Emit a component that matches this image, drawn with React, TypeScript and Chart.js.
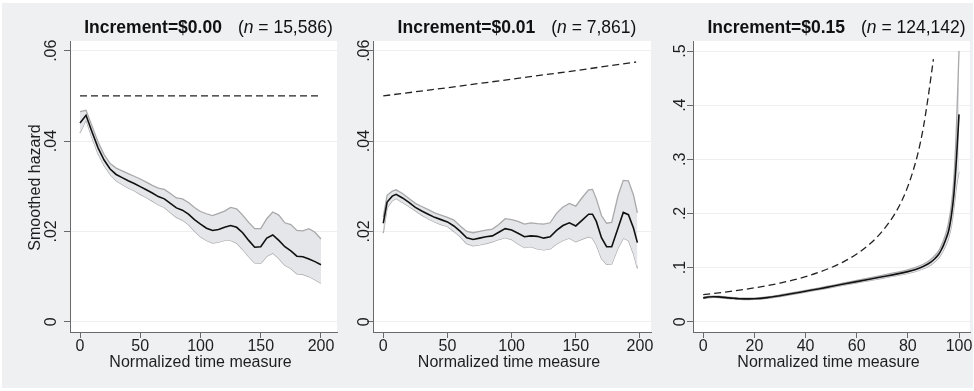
import React, { useEffect, useRef } from 'react';
import { Chart, registerables } from 'chart.js';

Chart.register(...registerables);

// ---------- Panel 1: Increment=$0.00 ----------
const p1X = [0, 5, 10, 15, 20, 25, 30, 35, 40, 45, 50, 55, 60, 65, 70, 75, 80, 85, 90, 95, 100, 105, 110, 115, 120, 125, 130, 135, 140, 145, 150, 155, 160, 165, 170, 175, 180, 185, 190, 195, 200];
const p1Hazard = [0.0440, 0.0457, 0.0420, 0.0385, 0.0358, 0.0338, 0.0326, 0.0319, 0.0312, 0.0306, 0.0299, 0.0292, 0.0285, 0.0277, 0.0272, 0.0262, 0.0252, 0.0247, 0.0238, 0.0226, 0.0216, 0.0207, 0.0202, 0.0204, 0.0209, 0.0213, 0.0209, 0.0197, 0.0180, 0.0165, 0.0166, 0.0185, 0.0192, 0.0180, 0.0166, 0.0157, 0.0145, 0.0144, 0.0139, 0.0133, 0.0126];
const p1Upper = [0.0465, 0.0468, 0.0433, 0.0398, 0.0370, 0.0350, 0.0340, 0.0334, 0.0328, 0.0322, 0.0316, 0.0309, 0.0302, 0.0296, 0.0293, 0.0284, 0.0274, 0.0272, 0.0264, 0.0253, 0.0244, 0.0239, 0.0235, 0.0240, 0.0245, 0.0253, 0.0250, 0.0236, 0.0220, 0.0206, 0.0206, 0.0228, 0.0243, 0.0236, 0.0219, 0.0215, 0.0202, 0.0201, 0.0206, 0.0198, 0.0183];
const p1Lower = [0.0418, 0.0447, 0.0407, 0.0372, 0.0346, 0.0326, 0.0312, 0.0304, 0.0296, 0.0290, 0.0282, 0.0275, 0.0267, 0.0259, 0.0253, 0.0242, 0.0231, 0.0225, 0.0215, 0.0201, 0.0188, 0.0180, 0.0174, 0.0176, 0.0180, 0.0180, 0.0174, 0.0160, 0.0144, 0.0130, 0.0129, 0.0145, 0.0152, 0.0140, 0.0125, 0.0118, 0.0106, 0.0105, 0.0100, 0.0093, 0.0085];
const p1BaseX = [0, 200];
const p1Base = [0.05, 0.05];

// ---------- Panel 2: Increment=$0.01 ----------
const p2X = [0, 3, 7, 10, 15, 20, 25, 30, 35, 40, 45, 50, 55, 60, 65, 70, 75, 80, 85, 90, 95, 100, 105, 110, 115, 120, 125, 130, 135, 140, 145, 150, 155, 160, 163, 166, 170, 174, 178, 183, 187, 191, 195, 198];
const p2Hazard = [0.0218, 0.0265, 0.0278, 0.0282, 0.0274, 0.0264, 0.0253, 0.0245, 0.0238, 0.0231, 0.0226, 0.0221, 0.0212, 0.0200, 0.0186, 0.0182, 0.0185, 0.0188, 0.0190, 0.0198, 0.0206, 0.0203, 0.0196, 0.0188, 0.0190, 0.0189, 0.0185, 0.0188, 0.0202, 0.0213, 0.0219, 0.0212, 0.0225, 0.0238, 0.0238, 0.0222, 0.0186, 0.0166, 0.0166, 0.0208, 0.0242, 0.0237, 0.0207, 0.0175];
const p2Upper = [0.0232, 0.0280, 0.0289, 0.0292, 0.0284, 0.0273, 0.0262, 0.0255, 0.0248, 0.0241, 0.0236, 0.0231, 0.0225, 0.0212, 0.0200, 0.0197, 0.0200, 0.0203, 0.0205, 0.0215, 0.0228, 0.0226, 0.0222, 0.0216, 0.0219, 0.0217, 0.0216, 0.0219, 0.0240, 0.0254, 0.0262, 0.0256, 0.0275, 0.0292, 0.0293, 0.0272, 0.0235, 0.0218, 0.0220, 0.0280, 0.0313, 0.0312, 0.0280, 0.0241];
const p2Lower = [0.0196, 0.0252, 0.0268, 0.0273, 0.0264, 0.0255, 0.0246, 0.0236, 0.0228, 0.0221, 0.0215, 0.0211, 0.0200, 0.0188, 0.0173, 0.0168, 0.0170, 0.0173, 0.0177, 0.0182, 0.0186, 0.0182, 0.0172, 0.0164, 0.0166, 0.0161, 0.0159, 0.0161, 0.0172, 0.0180, 0.0185, 0.0177, 0.0183, 0.0188, 0.0185, 0.0170, 0.0140, 0.0127, 0.0128, 0.0164, 0.0185, 0.0180, 0.0150, 0.0118];
const p2BaseX = [0, 50, 100, 150, 197];
const p2Base = [0.0500, 0.0518, 0.0537, 0.0556, 0.0575];

// ---------- Panel 3: Increment=$0.15 ----------
const p3X = [0, 2, 4, 6, 8, 10, 12, 14, 16, 18, 20, 25, 30, 35, 40, 45, 50, 55, 60, 65, 70, 75, 80, 83, 86, 88, 90, 92, 93, 94, 95, 96, 97, 98, 99, 100];
const p3Hazard = [0.0440, 0.0455, 0.0462, 0.0458, 0.0450, 0.0440, 0.0432, 0.0425, 0.0422, 0.0422, 0.0424, 0.0445, 0.0480, 0.0520, 0.0563, 0.0605, 0.0650, 0.0695, 0.0740, 0.0785, 0.0830, 0.0875, 0.0925, 0.0965, 0.1020, 0.1070, 0.1140, 0.1240, 0.1320, 0.1420, 0.1540, 0.1690, 0.1950, 0.2350, 0.3000, 0.3830];
const p3Upper = [0.0455, 0.0468, 0.0474, 0.0470, 0.0462, 0.0452, 0.0444, 0.0437, 0.0434, 0.0434, 0.0436, 0.0458, 0.0494, 0.0535, 0.0579, 0.0622, 0.0668, 0.0715, 0.0762, 0.0810, 0.0857, 0.0905, 0.0958, 0.1002, 0.1062, 0.1118, 0.1195, 0.1305, 0.1395, 0.1510, 0.1650, 0.1850, 0.2150, 0.2650, 0.3600, 0.5000];
const p3Lower = [0.0425, 0.0442, 0.0450, 0.0446, 0.0438, 0.0428, 0.0420, 0.0413, 0.0410, 0.0410, 0.0412, 0.0432, 0.0466, 0.0505, 0.0547, 0.0588, 0.0632, 0.0675, 0.0718, 0.0760, 0.0803, 0.0845, 0.0892, 0.0928, 0.0978, 0.1022, 0.1085, 0.1175, 0.1245, 0.1330, 0.1430, 0.1560, 0.1760, 0.2100, 0.2500, 0.2770];
const p3BaseX = [0, 10, 20, 30, 40, 50, 55, 60, 65, 70, 75, 78, 80, 82, 84, 86, 88, 90];
const p3Base = [0.050, 0.0556, 0.0625, 0.0714, 0.0833, 0.100, 0.111, 0.125, 0.143, 0.167, 0.200, 0.227, 0.250, 0.278, 0.3125, 0.357, 0.417, 0.485];

// ---------- Ticks and labels ----------
const xTicksA = [0, 50, 100, 150, 200];
const xLabelsA = ['0', '50', '100', '150', '200'];
const xTicksB = [0, 20, 40, 60, 80, 100];
const xLabelsB = ['0', '20', '40', '60', '80', '100'];
const yTicksA = [0, 0.02, 0.04, 0.06];
const yLabelsA = ['0', '.02', '.04', '.06'];
const yTicksB = [0, 0.1, 0.2, 0.3, 0.4, 0.5];
const yLabelsB = ['0', '.1', '.2', '.3', '.4', '.5'];

const titles = ['Increment=$0.00', 'Increment=$0.01', 'Increment=$0.15'];
const counts = [' = 15,586)', ' = 7,861)', ' = 124,142)'];
const xTitle = 'Normalized time measure';
const yTitle = 'Smoothed hazard';

const FONT = '"Liberation Sans", Arial, Helvetica, sans-serif';

type Panel = {
  left: number; width: number; yWidth: number; padRight: number;
  xMin: number; xMax: number; yMin: number; yMax: number;
  xTicks: number[]; xLabels: string[]; yTicks: number[]; yLabels: string[];
  yLabelOffset: number; title: string; count: string; showYTitle: boolean;
  x: number[]; hazard: number[]; upper: number[]; lower: number[];
  baseX: number[]; base: number[]; smooth: boolean;
};

const panels: Panel[] = [
  {
    left: 0, width: 340, yWidth: 70, padRight: 3,
    xMin: -8.3, xMax: 213.3, yMin: -0.00228, yMax: 0.06215,
    xTicks: xTicksA, xLabels: xLabelsA, yTicks: yTicksA, yLabels: yLabelsA,
    yLabelOffset: 20, title: titles[0], count: counts[0], showYTitle: true,
    x: p1X, hazard: p1Hazard, upper: p1Upper, lower: p1Lower, baseX: p1BaseX, base: p1Base, smooth: false,
  },
  {
    left: 340, width: 315, yWidth: 33, padRight: 4,
    xMin: -8.0, xMax: 208.6, yMin: -0.00228, yMax: 0.06215,
    xTicks: xTicksA, xLabels: xLabelsA, yTicks: yTicksA, yLabels: yLabelsA,
    yLabelOffset: 10, title: titles[1], count: counts[1], showYTitle: false,
    x: p2X, hazard: p2Hazard, upper: p2Upper, lower: p2Lower, baseX: p2BaseX, base: p2Base, smooth: false,
  },
  {
    left: 655, width: 319, yWidth: 38, padRight: 4,
    xMin: -4.0, xMax: 104.3, yMin: -0.019, yMax: 0.5185,
    xTicks: xTicksB, xLabels: xLabelsB, yTicks: yTicksB, yLabels: yLabelsB,
    yLabelOffset: 14, title: titles[2], count: counts[2], showYTitle: false,
    x: p3X, hazard: p3Hazard, upper: p3Upper, lower: p3Lower, baseX: p3BaseX, base: p3Base, smooth: true,
  },
];

const pts = (xs: number[], ys: number[]) => xs.map((x, i) => ({ x, y: ys[i] }));

// draw text rotated -90deg so that the glyph body (cap height) is centred on (cx, cy)
function rotatedText(ctx: CanvasRenderingContext2D, text: string, cx: number, cy: number, capHalf: number) {
  ctx.save();
  ctx.translate(cx, cy);
  ctx.rotate(-Math.PI / 2);
  ctx.textAlign = 'center';
  ctx.textBaseline = 'alphabetic';
  ctx.fillText(text, 0, capHalf);
  ctx.restore();
}

function makePlugin(p: Panel) {
  return {
    id: 'stataText',
    beforeDraw(chart: any) {
      const { ctx, chartArea: a } = chart;
      ctx.save();
      ctx.fillStyle = '#ffffff';
      ctx.fillRect(a.left, a.top, a.right - a.left, a.bottom - a.top);
      ctx.restore();
    },
    afterDraw(chart: any) {
      const ctx = chart.ctx as CanvasRenderingContext2D;
      const a = chart.chartArea;
      const xs = chart.scales.x;
      const ys = chart.scales.y;
      ctx.save();
      ctx.fillStyle = '#1e1e1e';
      ctx.font = `16px ${FONT}`;
      ctx.textAlign = 'center';
      ctx.textBaseline = 'alphabetic';
      p.xTicks.forEach((v, i) => ctx.fillText(p.xLabels[i], xs.getPixelForValue(v), 351));
      ctx.fillText(xTitle, (a.left + a.right) / 2 - 3, 367);
      p.yTicks.forEach((v, i) => rotatedText(ctx, p.yLabels[i], a.left - p.yLabelOffset, ys.getPixelForValue(v), 5.8));
      if (p.showYTitle) {
        rotatedText(ctx, yTitle, 34, (a.top + a.bottom) / 2 + 1, 5.8);
      }
      // Title with mixed styles
      const bold = `700 17.5px ${FONT}`;
      const reg = `17.5px ${FONT}`;
      const ital = `italic 17.5px ${FONT}`;
      ctx.font = bold; const w1 = ctx.measureText(p.title).width;
      const gap = 16;
      ctx.font = reg; const w2 = ctx.measureText('(').width;
      ctx.font = ital; const w3 = ctx.measureText('n').width;
      ctx.font = reg; const w4 = ctx.measureText(p.count).width;
      const total = w1 + gap + w2 + w3 + w4;
      let x = (a.left + a.right) / 2 + 5 - total / 2;
      const by = 32.5;
      ctx.textAlign = 'left';
      ctx.fillStyle = '#111';
      ctx.font = bold; ctx.fillText(p.title, x, by); x += w1 + gap;
      ctx.font = reg; ctx.fillText('(', x, by); x += w2;
      ctx.font = ital; ctx.fillText('n', x, by); x += w3;
      ctx.font = reg; ctx.fillText(p.count, x, by);
      ctx.restore();
    },
  };
}

function PanelChart({ p }: { p: Panel }) {
  const ref = useRef<HTMLCanvasElement | null>(null);
  useEffect(() => {
    if (!ref.current) return;
    const interp = p.smooth ? { cubicInterpolationMode: 'monotone' as const } : { tension: 0 };
    const chart = new Chart(ref.current, {
      type: 'line',
      data: {
        datasets: [
          {
            label: 'hazard', data: pts(p.x, p.hazard), borderColor: '#111111', borderWidth: 1.6,
            pointRadius: 0, fill: false, ...interp,
          },
          {
            label: 'baseline', data: pts(p.baseX, p.base), borderColor: '#222222', borderWidth: 1.3,
            borderDash: [7, 4], pointRadius: 0, fill: false, ...interp,
          },
          {
            label: 'upper', data: pts(p.x, p.upper), borderColor: '#a9a9ab', borderWidth: 1.3,
            backgroundColor: '#e5e6e9', pointRadius: 0, fill: '+1', ...interp,
          },
          {
            label: 'lower', data: pts(p.x, p.lower), borderColor: '#a9a9ab', borderWidth: 1.3,
            pointRadius: 0, fill: false, ...interp,
          },
        ],
      } as any,
      options: {
        responsive: false,
        animation: false,
        devicePixelRatio: 1,
        layout: { padding: { top: 41, right: p.padRight, left: 0, bottom: 0 } },
        plugins: { legend: { display: false }, tooltip: { enabled: false }, title: { display: false } },
        scales: {
          x: {
            type: 'linear', min: p.xMin, max: p.xMax,
            ticks: { display: false },
            afterBuildTicks: (s: any) => { s.ticks = p.xTicks.map((v) => ({ value: v })); },
            afterFit: (s: any) => { s.height = 59; },
            grid: { drawOnChartArea: false, drawTicks: true, tickLength: 6, tickColor: '#6a6a6a', tickWidth: 1 },
            border: { display: true, color: '#6a6a6a', width: 1 },
          },
          y: {
            type: 'linear', min: p.yMin, max: p.yMax,
            ticks: { display: false },
            afterBuildTicks: (s: any) => { s.ticks = p.yTicks.map((v) => ({ value: v })); },
            afterFit: (s: any) => { s.width = p.yWidth; },
            grid: { drawOnChartArea: true, color: '#efefef', lineWidth: 1, drawTicks: true, tickLength: 6, tickColor: '#6a6a6a', tickWidth: 1 },
            border: { display: true, color: '#6a6a6a', width: 1 },
          },
        },
      } as any,
      plugins: [makePlugin(p)],
    });
    return () => chart.destroy();
  }, [p]);
  return (
    <canvas
      ref={ref}
      width={p.width}
      height={391}
      style={{ position: 'absolute', left: p.left, top: 0, width: p.width, height: 391 }}
    />
  );
}

export default function App() {
  return (
    <div style={{ position: 'fixed', left: 0, top: 0, width: 974, height: 391, background: '#ffffff', overflow: 'hidden' }}>
      <div style={{ position: 'absolute', left: 2, top: 3, width: 971, height: 385, background: '#eff0f2' }} />
      {panels.map((p, i) => (
        <PanelChart key={i} p={p} />
      ))}
    </div>
  );
}
